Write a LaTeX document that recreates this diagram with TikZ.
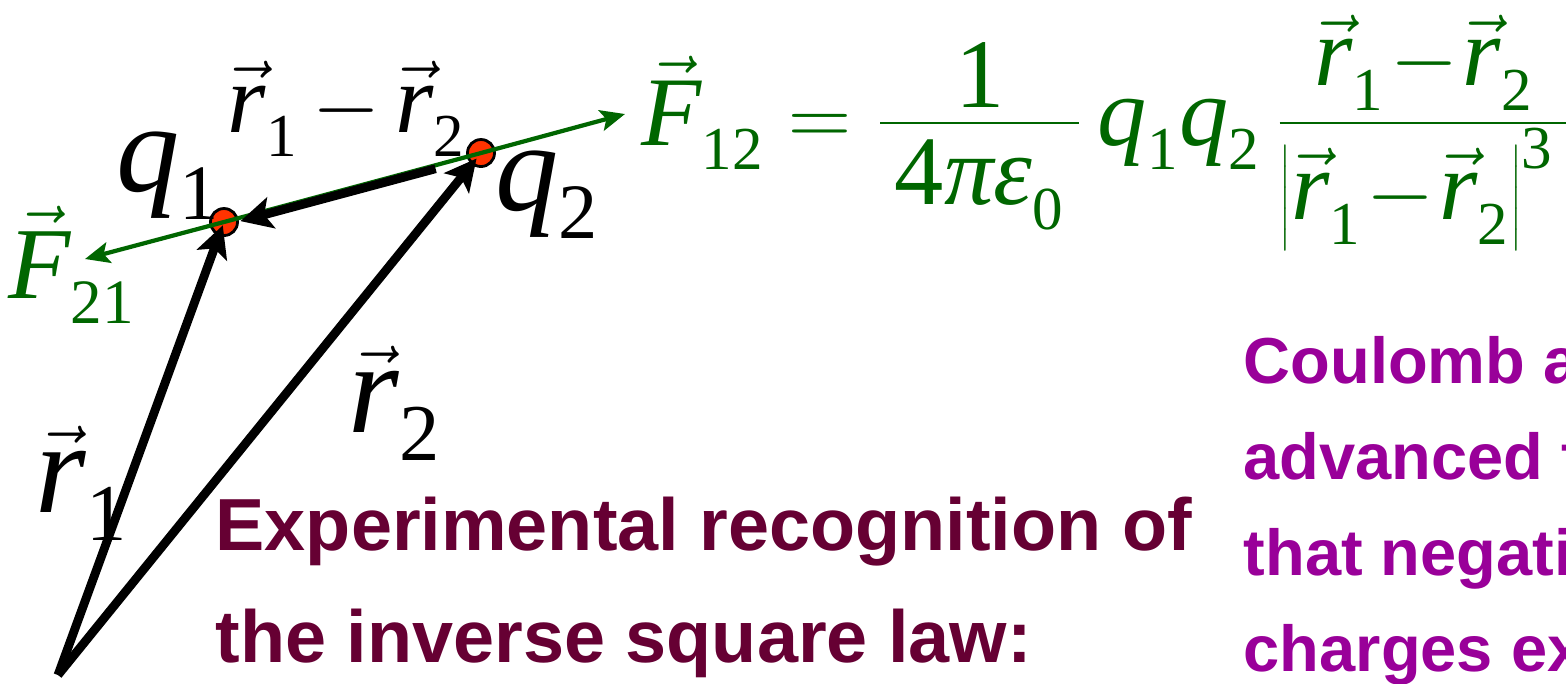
\documentclass[tikz,border=0pt]{standalone}
\usepackage{fontspec}
\setmainfont{Liberation Serif}
\newfontfamily\sansbf{Liberation Sans}
\usetikzlibrary{arrows.meta}
\definecolor{eqgreen}{RGB}{0,102,0}
\definecolor{chgred}{RGB}{255,51,0}
\definecolor{notemaroon}{RGB}{102,0,51}
\definecolor{notepurple}{RGB}{153,0,153}
\renewcommand{\defaultscriptratio}{.62}
% lowered upright subscript
\newcommand{\lsub}[1]{_{\lower0.12em\hbox{$\scriptstyle\mathrm{#1}$}}}
\newcommand{\rvec}[1]{\vec{\mathit{r}}\lsub{#1}}

\begin{document}
\begin{tikzpicture}[
  charge/.style={circle, draw, line width=0.8pt, fill=chgred,
                 minimum size=0.27cm, inner sep=0pt},
  vecarr/.style={-{Stealth[length=9pt, width=9pt, inset=2pt]}, line width=2.5pt},
  force/.style={{Stealth[length=7pt, width=6pt, inset=1.5pt]}-{Stealth[length=7pt, width=6pt, inset=1.5pt]},
                eqgreen, line width=1.2pt},
  mlab/.style={inner sep=0pt, anchor=base west, font=\fontsize{#1}{#1}\selectfont},
  note/.style={inner sep=0pt, anchor=base west, font=\sansbf\bfseries\fontsize{#1}{#1}\selectfont}
]
  \useasboundingbox (0, 0) rectangle (15.66, -6.83);
  \clip (0, 0) rectangle (15.66, -6.83);

  % Charges
  \node[charge] (q1) at (2.24, -2.22) {};
  \node[charge] (q2) at (4.81, -1.53) {};
  \coordinate (O) at (0.58, -6.75);
  \coordinate (F21end) at (0.85, -2.59);
  \coordinate (F12end) at (6.25, -1.14);

  % Forces
  \draw[force] (F21end) -- (q1.center) -- (q2.center) -- (F12end);

  % Position vectors
  \draw[vecarr, shorten >=1pt] (O) -- (q1.center);
  \draw[vecarr, shorten >=2pt] (O) -- (q2.center);
  \draw[vecarr, shorten <=0.47cm, shorten >=0.17cm] ([yshift=-1pt]q2.center) -- ([yshift=-1pt]q1.center);

  % Labels
  \node[mlab=36] (q1lab) at (1.16, -1.91) {$\mathit{q}\lsub{1}$};
  \node[mlab=36] (q2lab) at (4.95, -2.10) {$\mathit{q}\lsub{2}$};
  \node[mlab=28] (r12lab) at (2.27, -1.32) {$\medmuskip=3mu \rvec{1}-\rvec{2}$};
  \node[mlab=37] (r2lab) at (3.48, -4.32) {$\rvec{2}$};
  \node[mlab=37] (r1lab) at (0.35, -5.12) {$\rvec{1}$};
  \node[mlab=29, eqgreen] (F21lab) at (0.08, -2.98) {$\vec{\mathit{F}}\lsub{21}$};

  % Coulomb's law
  \node[mlab=28, eqgreen] (law) at (6.41, -1.45)
    {$\displaystyle \vec{\mathit{F}}\lsub{12} = \frac{\lower0.22em\hbox{1}}{\,\mathrm{4}\textit{πε}\lsub{0}\,}\,
      \mathit{q}\lsub{1}\mathit{q}\lsub{2}\,\medmuskip=1mu
      \frac{\rvec{1}-\rvec{2}}{\left|\rvec{1}-\rvec{2}\right|^{\mathrm{3}}\,}$};

  % Notes
  \node[note=21, notemaroon] (exp1) at (2.15, -5.50) {Experimental recognition of};
  \node[note=21, notemaroon] (exp2) at (2.15, -6.62) {the inverse square law:};
  \node[note=18.5, notepurple] (cb1) at (12.43, -3.83) {Coulomb a};
  \node[note=18.5, notepurple] (cb2) at (12.43, -4.79) {advanced t};
  \node[note=18.5, notepurple] (cb3) at (12.43, -5.75) {that negati};
  \node[note=18.5, notepurple] (cb4) at (12.43, -6.71) {charges ex};
\end{tikzpicture}
\end{document}
